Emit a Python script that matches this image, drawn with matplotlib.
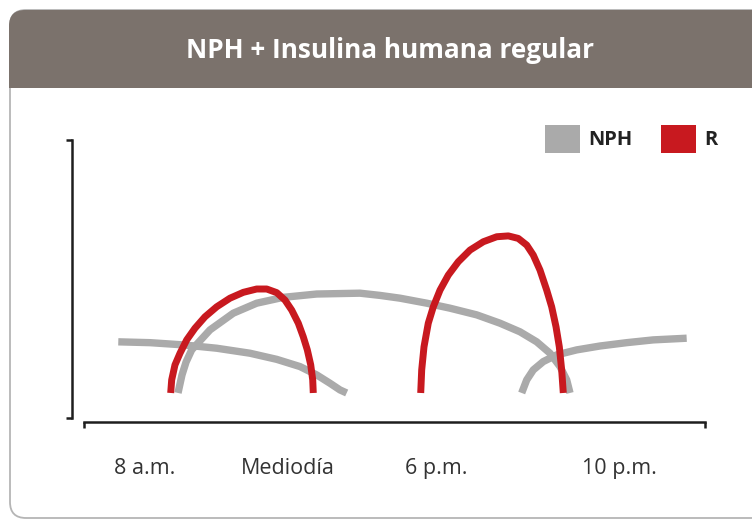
import matplotlib
matplotlib.use('Agg')
import matplotlib.pyplot as plt
from matplotlib.patches import FancyBboxPatch, Rectangle, Patch

# Effect profiles over the day (x: day position 0-10, y: relative effect 0-100)
nph_prev_x = [0.552, 1.063, 1.599, 2.137, 2.673, 3.103, 3.478, 3.747, 3.961, 4.122, 4.230]
nph_prev_y = [27.4, 27.1, 26.3, 25.1, 23.3, 21.1, 18.5, 15.5, 12.5, 10.1, 9.0]

nph_am_x = [1.514, 1.578, 1.643, 1.734, 2.029, 2.404, 2.781, 3.209, 3.747, 4.444, 4.766,
            5.089, 5.519, 5.894, 6.324, 6.699, 7.021, 7.290, 7.504, 7.665, 7.773, 7.826]
nph_am_y = [9.0, 15.5, 20.1, 24.5, 31.7, 37.7, 41.3, 43.4, 44.6, 44.9, 44.1,
            43.1, 41.3, 39.5, 37.1, 34.1, 31.0, 27.4, 23.3, 18.5, 13.7, 9.0]

nph_pm_x = [7.048, 7.129, 7.235, 7.396, 7.612, 7.934, 8.309, 8.739, 9.167, 9.705]
nph_pm_y = [9.0, 13.7, 17.3, 20.3, 22.7, 24.5, 25.9, 27.1, 28.1, 28.7]

reg_am_x = [1.396, 1.412, 1.465, 1.546, 1.654, 1.787, 1.948, 2.137, 2.351, 2.565, 2.781,
            2.942, 3.103, 3.237, 3.345, 3.451, 3.531, 3.596, 3.651, 3.683, 3.692]
reg_am_y = [9.0, 13.7, 19.1, 23.3, 28.1, 32.3, 36.4, 40.0, 43.1, 45.2, 46.4,
            46.4, 45.1, 42.4, 38.8, 34.1, 29.2, 24.5, 19.1, 13.7, 9.0]

reg_pm_x = [5.422, 5.438, 5.475, 5.544, 5.625, 5.733, 5.866, 6.027, 6.216, 6.430, 6.646,
            6.833, 6.993, 7.129, 7.235, 7.343, 7.451, 7.531, 7.601, 7.654, 7.692, 7.718]
reg_pm_y = [9.0, 17.3, 25.6, 34.1, 40.0, 46.0, 51.4, 56.2, 60.4, 63.4, 65.2,
            65.5, 64.6, 62.2, 58.6, 53.2, 46.0, 40.0, 32.8, 25.6, 17.3, 9.0]

time_pos = [0.98, 3.29, 5.67, 8.63]
time_labels = ['8 a.m.', 'Mediodía', '6 p.m.', '10 p.m.']

title = 'NPH + Insulina humana regular'
legend_labels = ['NPH', 'R']

gray = '#aaaaaa'
red = '#c8191f'
brown = '#7b726c'
font = ['Open Sans', 'DejaVu Sans']

fig = plt.figure(figsize=(7.52, 5.23), dpi=100)

# card background with header band
bg = fig.add_axes([0, 0, 1, 1], zorder=0)
bg.set_xlim(0, 752)
bg.set_ylim(523, 0)
bg.axis('off')
card = FancyBboxPatch((10, 10), 780, 508, boxstyle='round,pad=0,rounding_size=16',
                      facecolor='white', edgecolor='#b5b5b5', linewidth=1.3)
bg.add_patch(card)
header = FancyBboxPatch((9, 10), 780, 120, boxstyle='round,pad=0,rounding_size=16',
                        facecolor=brown, edgecolor='none')
bg.add_patch(header)
header.set_clip_path(Rectangle((0, 0), 752, 88, transform=bg.transData))
bg.text(390, 51, title, color='white', fontsize=18.8, fontweight='bold',
        family=font, ha='center', va='center')

ax = fig.add_axes([84 / 752, 1 - 418 / 523, 621 / 752, 278 / 523], zorder=1)
ax.patch.set_alpha(0)

for xs, ys in [(nph_prev_x, nph_prev_y), (nph_am_x, nph_am_y), (nph_pm_x, nph_pm_y)]:
    ax.plot(xs, ys, color=gray, lw=5.3, solid_capstyle='butt', solid_joinstyle='round')
for xs, ys in [(reg_am_x, reg_am_y), (reg_pm_x, reg_pm_y)]:
    ax.plot(xs, ys, color=red, lw=5, solid_capstyle='butt', solid_joinstyle='round')

ax.set_xlim(0, 10)
ax.set_ylim(0, 100)

for s in ['top', 'right']:
    ax.spines[s].set_visible(False)
ax.spines['left'].set_position(('outward', 8.6))
ax.spines['bottom'].set_position(('outward', 2.9))
for s in ['left', 'bottom']:
    ax.spines[s].set_linewidth(1.8)
    ax.spines[s].set_color('#1e1e1e')
    ax.spines[s].set_capstyle('projecting')

# bracket ends on both axes
ax.set_yticks([0, 100])
ax.set_yticklabels([])
ax.tick_params(axis='y', length=4, width=1.8, color='#1e1e1e')
ax.set_xticks([0, 10])
ax.set_xticklabels([])
ax.tick_params(axis='x', which='major', length=4, width=1.8, color='#1e1e1e')
ax.set_xticks(time_pos, minor=True)
ax.set_xticklabels(time_labels, minor=True, fontsize=15.5, family=font, color='#333333')
ax.tick_params(axis='x', which='minor', length=0, pad=26)

handles = [Patch(facecolor=gray, edgecolor='none'), Patch(facecolor=red, edgecolor='none')]
leg = fig.legend(handles, legend_labels, ncol=2, frameon=False, loc='upper left',
                 bbox_to_anchor=(545 / 752, 1 - 125 / 523), borderpad=0, borderaxespad=0,
                 handlelength=1.75, handleheight=1.75, handletextpad=0.4, columnspacing=1.4,
                 prop={'family': font, 'weight': 'bold', 'size': 14.5})
for t in leg.get_texts():
    t.set_color('#222222')

fig.savefig('out.png', dpi=100, facecolor='white')
